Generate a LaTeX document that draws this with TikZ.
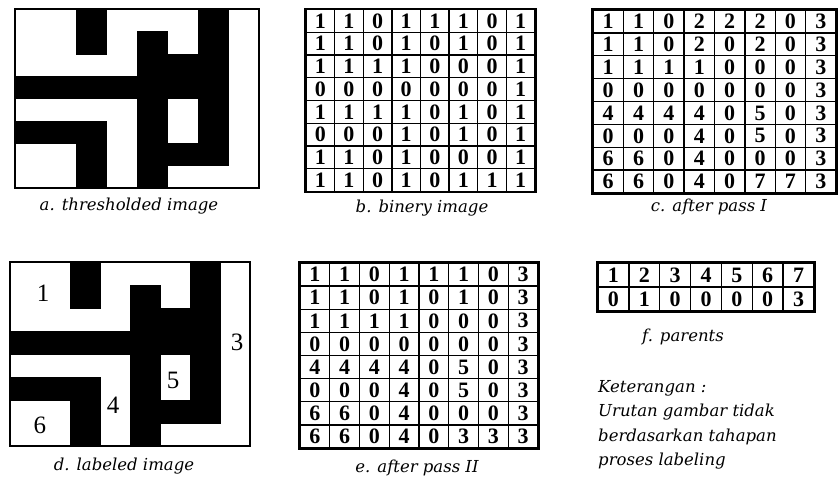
\documentclass[tikz,border=0pt]{standalone}
\usepackage{fontspec}
\setmainfont{Liberation Serif}
\newfontfamily\capfont{DejaVu Serif}
\usetikzlibrary{positioning}
\tikzset{
  numcell/.style={draw=black,line width=1.3pt,inner sep=0pt,anchor=center,font=\bfseries\fontsize{22}{22}\selectfont},
  gridframe/.style={draw=black,line width=2pt},
  imgframe/.style={draw=black,line width=1.6pt},
  blackpx/.style={fill=black,draw=black,line width=0.5pt},
  regionlabel/.style={font=\fontsize{25}{25}\selectfont,inner sep=0pt},
  caption/.style={font=\capfont\itshape\fontsize{16.5}{20}\selectfont,inner sep=0pt},
  note/.style={font=\capfont\itshape\fontsize{16.5}{20}\selectfont,inner sep=0pt}
}
% binary image, 0 = black
\def\binrows{{1,1,0,1,1,1,0,1},{1,1,0,1,0,1,0,1},{1,1,1,1,0,0,0,1},{0,0,0,0,0,0,0,1},
  {1,1,1,1,0,1,0,1},{0,0,0,1,0,1,0,1},{1,1,0,1,0,0,0,1},{1,1,0,1,0,1,1,1}}
% #1 x0, #2 y0, #3 cell w, #4 cell h
\newcommand\binimage[4]{%
  \foreach \row [count=\r from 0] in \binrows {
    \foreach \val [count=\c from 0] in \row {
      \ifnum\val=0
        \path[blackpx] ({#1+\c*#3},{#2+\r*#4}) rectangle ++(#3,#4);
      \fi
    }
  }
}
% #1 name, #2 x0, #3 y0, #4 cell w, #5 cell h, #6 rows
\newcommand\numgrid[6]{%
  \foreach \row [count=\r from 0] in {#6} {
    \foreach \val [count=\c from 0] in \row {
      \node[numcell,minimum width=#4pt,minimum height=#5pt] (#1-\r-\c)
        at ({#2+(\c+0.5)*#4},{#3+(\r+0.5)*#5}) {\val};
    }
  }
}

\begin{document}
\begin{tikzpicture}[x=1pt,y=-1pt]
\useasboundingbox[fill=white] (0,0) rectangle (839,483);

% a. thresholded image
\binimage{15}{9}{30.5}{22.375}
\draw[imgframe] (15,9) rectangle (259,188);
\node[caption] (capA) at (129,206) {a. thresholded image};

% b. binary image
\numgrid{b}{306}{9.5}{28.625}{22.75}{{1,1,0,1,1,1,0,1},{1,1,0,1,0,1,0,1},{1,1,1,1,0,0,0,1},{0,0,0,0,0,0,0,1},
  {1,1,1,1,0,1,0,1},{0,0,0,1,0,1,0,1},{1,1,0,1,0,0,0,1},{1,1,0,1,0,1,1,1}}
\draw[gridframe] (b-0-0.north west) rectangle (b-7-7.south east);
\node[caption] (capB) at (422,208) {b. binery image};

% c. after pass I
\numgrid{c}{593}{10}{30.375}{22.875}{{1,1,0,2,2,2,0,3},{1,1,0,2,0,2,0,3},{1,1,1,1,0,0,0,3},{0,0,0,0,0,0,0,3},
  {4,4,4,4,0,5,0,3},{0,0,0,4,0,5,0,3},{6,6,0,4,0,0,0,3},{6,6,0,4,0,7,7,3}}
\draw[gridframe] (c-0-0.north west) rectangle (c-7-7.south east);
\node[caption] (capC) at (709,207) {c. after pass I};

% d. labeled image
\binimage{10}{262}{30}{23}
\draw[imgframe] (10,262) rectangle (250,446);
\node[regionlabel] (lab1) at (43,293) {1};
\node[regionlabel] (lab3) at (237,342) {3};
\node[regionlabel] (lab5) at (173,380) {5};
\node[regionlabel] (lab4) at (113,405) {4};
\node[regionlabel] (lab6) at (40,425) {6};
\node[caption] (capD) at (124,466) {d. labeled image};

% e. after pass II
\numgrid{e}{300}{263}{29.75}{23.125}{{1,1,0,1,1,1,0,3},{1,1,0,1,0,1,0,3},{1,1,1,1,0,0,0,3},{0,0,0,0,0,0,0,3},
  {4,4,4,4,0,5,0,3},{0,0,0,4,0,5,0,3},{6,6,0,4,0,0,0,3},{6,6,0,4,0,3,3,3}}
\draw[gridframe] (e-0-0.north west) rectangle (e-7-7.south east);
\node[caption] (capE) at (417,468) {e. after pass II};

% f. parents
\numgrid{f}{598}{263}{30.857}{24}{{1,2,3,4,5,6,7},{0,1,0,0,0,0,3}}
\draw[gridframe] (f-0-0.north west) rectangle (f-1-6.south east);
\node[caption] (capF) at (683,337) {f. parents};

% keterangan
\foreach \txt [count=\i from 0] in {Keterangan :,Urutan gambar tidak,berdasarkan tahapan,proses labeling}
  \node[note,anchor=base west] (note\i) at (598,{392+24.6*\i}) {\txt};
\end{tikzpicture}
\end{document}
